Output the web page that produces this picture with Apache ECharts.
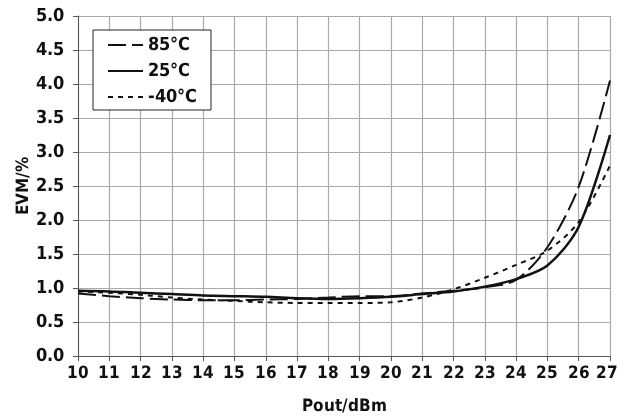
<!DOCTYPE html>
<html><head><meta charset="utf-8">
<script src="https://cdn.jsdelivr.net/npm/echarts@6/dist/echarts.min.js"></script>
<style>
@font-face{font-family:'CondB';src:local('DejaVu Sans Condensed Bold'),local('DejaVuSansCondensed-Bold'),local('Liberation Sans Narrow Bold'),local('LiberationSansNarrow-Bold');font-weight:bold;}
@font-face{font-family:'CondB';src:local('DejaVu Sans Condensed Bold'),local('DejaVuSansCondensed-Bold'),local('Liberation Sans Narrow Bold'),local('LiberationSansNarrow-Bold');font-weight:normal;}
html,body{margin:0;padding:0;background:#fff}#c{width:618px;height:419px}</style>
</head><body><div id="c"></div><span style="font-family:CondB;font-weight:bold;position:absolute;left:-999px">x</span>
<script>
const pout = [10,11,12,13,14,15,16,17,18,19,20,21,22,23,24,25,26,27];
const evm85 = [0.92,0.88,0.85,0.83,0.82,0.82,0.83,0.84,0.86,0.88,0.88,0.92,0.96,1.01,1.12,1.60,2.49,4.05];
const evm25 = [0.96,0.95,0.93,0.91,0.89,0.88,0.87,0.85,0.84,0.85,0.87,0.91,0.95,1.02,1.13,1.33,1.90,3.25];
const evmM40 = [0.95,0.93,0.90,0.86,0.83,0.81,0.79,0.78,0.78,0.78,0.79,0.86,0.98,1.15,1.34,1.55,1.97,2.80];
const names = ['85°C','25°C','-40°C'];
const FONT = "CondB,'DejaVu Sans',sans-serif";
const pair = a => pout.map((x,i)=>[x,a[i]]);
function draw(){
const chart = echarts.init(document.getElementById('c'));
chart.setOption({
  animation:false,
  textStyle:{fontFamily:FONT},
  grid:{left:78,right:8,top:16,bottom:63,outerBoundsMode:'none',containLabel:false},
  legend:{
    orient:'vertical', left:93, top:30,
    data:names, itemWidth:35, itemHeight:10, itemGap:8,
    borderColor:'#222', borderWidth:1, padding:[6,14,4,14],
    backgroundColor:'#fff',
    itemStyle:{opacity:0},
    textStyle:{fontFamily:FONT,fontWeight:'bold',fontSize:18,color:'#111'}
  },
  xAxis:{
    type:'value', min:10, max:27, interval:1,
    name:'Pout/dBm', nameLocation:'middle', nameGap:42, nameMoveOverlap:false,
    nameTextStyle:{fontFamily:FONT,fontWeight:'bold',fontSize:17,color:'#111'},
    axisLine:{show:true,lineStyle:{color:'#555',width:1}},
    axisTick:{show:true,length:5,lineStyle:{color:'#555'}},
    axisLabel:{fontFamily:FONT,fontWeight:'bold',fontSize:17,color:'#111',margin:9,
      formatter:v=> v===27 ? '{last|'+v+'}' : String(v),
      rich:{last:{fontFamily:FONT,fontWeight:'bold',fontSize:17,color:'#111',padding:[0,7,0,0]}}},
    splitLine:{show:true,lineStyle:{color:'#aaa',width:1.2}}
  },
  yAxis:{
    type:'value', min:0, max:5, interval:0.5,
    name:'EVM/%', nameLocation:'middle', nameGap:46, nameMoveOverlap:false,
    nameTextStyle:{fontFamily:FONT,fontWeight:'bold',fontSize:17,color:'#111'},
    axisLine:{show:true,lineStyle:{color:'#555',width:1}},
    axisTick:{show:true,length:5,lineStyle:{color:'#555'}},
    axisLabel:{fontFamily:FONT,fontWeight:'bold',fontSize:18,color:'#111',margin:14,formatter:v=>v.toFixed(1)},
    splitLine:{show:true,lineStyle:{color:'#aaa',width:1.2}}
  },
  series:[
    {name:names[0],type:'line',data:pair(evm85),symbol:'none',smooth:0.3,
     lineStyle:{color:'#111',width:2,type:[18,6]},itemStyle:{color:'#111'}},
    {name:names[1],type:'line',data:pair(evm25),symbol:'none',smooth:0.3,
     lineStyle:{color:'#111',width:2.5,type:'solid'},itemStyle:{color:'#111'}},
    {name:names[2],type:'line',data:pair(evmM40),symbol:'none',smooth:0.3,
     lineStyle:{color:'#111',width:2,type:[5,5]},itemStyle:{color:'#111'}}
  ]
});
}
if (document.fonts && document.fonts.load) {
  document.fonts.load("bold 18px CondB").then(draw, draw);
} else draw();
</script></body></html>
